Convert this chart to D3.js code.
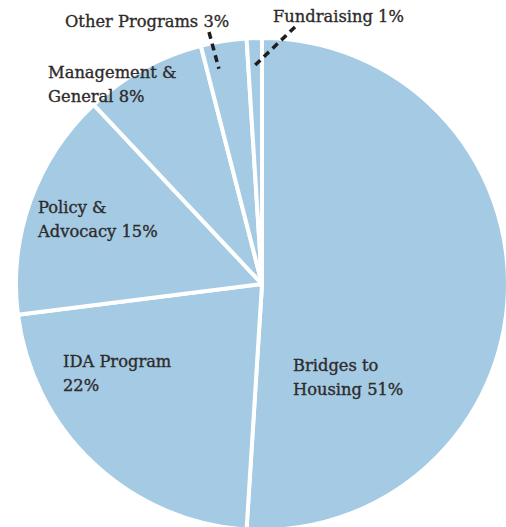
<!DOCTYPE html>
<html><head><meta charset="utf-8">
<script src="https://cdn.jsdelivr.net/npm/d3@7"></script>
<style>html,body{margin:0;padding:0;background:#fff;}svg{display:block;}</style>
</head><body>
<svg id="c" width="506" height="527"></svg>
<script>
const categories = ["Bridges to Housing", "IDA Program", "Policy & Advocacy", "Management & General", "Other Programs", "Fundraising"];
const values = [51, 22, 15, 8, 3, 1];
const labelLines = [
  ["Bridges to", "Housing 51%"],
  ["IDA Program", "22%"],
  ["Policy &", "Advocacy 15%"],
  ["Management &", "General 8%"],
  ["Other Programs 3%"],
  ["Fundraising 1%"]
];

const W = 506, H = 527;
const cx = 262, cy = 284, R = 246;
const svg = d3.select("#c");
const g = svg.append("g").attr("transform", `translate(${cx},${cy})`);

const pie = d3.pie().sort(null).value(d => d.v);
const data = categories.map((c, i) => ({c, v: values[i]}));
const arcs = pie(data);
const arc = d3.arc().innerRadius(0).outerRadius(R);

g.selectAll("path.slice").data(arcs).join("path")
  .attr("class", "slice")
  .attr("d", arc)
  .attr("fill", "#a4cae4")
  .attr("stroke", "#fff")
  .attr("stroke-width", 4)
  .attr("stroke-linejoin", "round");

// label layout (positions relative to page)
const labelPos = [
  {x: 293, y: 371},
  {x: 63, y: 367},
  {x: 38, y: 213},
  {x: 48, y: 78},
  {x: 65, y: 27},
  {x: 273, y: 22}
];
const lineGap = 24;
const font = "'DejaVu Serif', serif";
svg.selectAll("text.lbl").data(arcs).join("text")
  .attr("class", "lbl")
  .attr("x", (d, i) => labelPos[i].x)
  .attr("y", (d, i) => labelPos[i].y)
  .attr("font-family", font)
  .attr("font-size", 16.3)
  .attr("fill", "#2e2b2b")
  .attr("stroke", "#2e2b2b")
  .attr("stroke-width", 0.35)
  .each(function(d, i) {
    const t = d3.select(this);
    labelLines[i].forEach((ln, k) => {
      t.append("tspan").attr("x", labelPos[i].x).attr("y", labelPos[i].y + k * lineGap).text(ln);
    });
  });

// leader lines for small slices
const leaders = [
  {i: 4, inner: 218, outer: [209, 32]},
  {i: 5, inner: 219, outer: [295, 27]}
];
leaders.forEach(L => {
  const a = arcs[L.i];
  const mid = (a.startAngle + a.endAngle) / 2;
  let x1 = cx + L.inner * Math.sin(mid), y1 = cy - L.inner * Math.cos(mid);
  if (L.i === 4) { x1 = x1 - 9; }
  svg.append("line")
    .attr("x1", L.outer[0]).attr("y1", L.outer[1])
    .attr("x2", x1).attr("y2", y1)
    .attr("stroke", "#1e1e1e")
    .attr("stroke-width", 3.5)
    .attr("stroke-dasharray", "7,5");
});
</script>
</body></html>
